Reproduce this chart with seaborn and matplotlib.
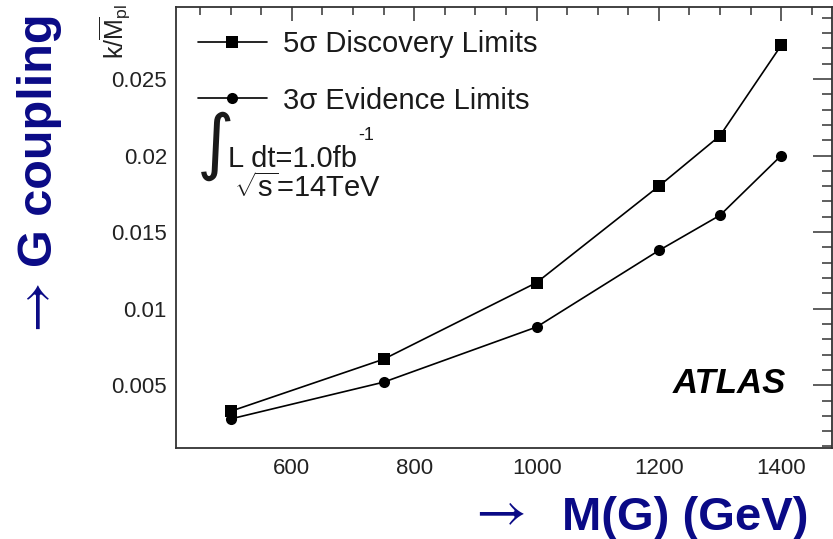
import matplotlib
matplotlib.use("Agg")
import matplotlib.pyplot as plt
from matplotlib.ticker import MultipleLocator, FuncFormatter
from matplotlib.lines import Line2D
import pandas as pd
import seaborn as sns

# Graviton mass points and coupling limits
mass_gev = [500, 750, 1000, 1200, 1300, 1400]
discovery_5sigma = [0.0033, 0.0067, 0.0117, 0.0180, 0.0213, 0.0272]
evidence_3sigma = [0.0028, 0.0052, 0.0088, 0.0138, 0.0161, 0.0200]
series_names = ["5σ Discovery Limits", "3σ Evidence Limits"]
series_markers = ["s", "o"]

x_limits = (410.5, 1483)
y_limits = (0.0009, 0.0297)

sns.set_style("white")
plt.rcParams["font.family"] = ["Liberation Sans", "DejaVu Sans"]
plt.rcParams["mathtext.fontset"] = "custom"
plt.rcParams["mathtext.rm"] = "Liberation Sans"
plt.rcParams["mathtext.it"] = "Liberation Sans:italic"
plt.rcParams["mathtext.bf"] = "Liberation Sans:bold"

W, H = 833, 539
fig = plt.figure(figsize=(W / 100, H / 100), dpi=100)
fig.patch.set_facecolor("white")


def px(x, y):
    return x / W, 1 - y / H


left, right, top, bottom = 176, 832, 7, 448
ax = fig.add_axes([left / W, 1 - bottom / H, (right - left) / W, (bottom - top) / H])
ax.set_facecolor("white")

df = pd.DataFrame({
    "mass": mass_gev * 2,
    "coupling": discovery_5sigma + evidence_3sigma,
    "series": [series_names[0]] * len(mass_gev) + [series_names[1]] * len(mass_gev),
})

sns.lineplot(
    data=df, x="mass", y="coupling", hue="series", style="series",
    markers=dict(zip(series_names, series_markers)), dashes=False,
    palette={name: "black" for name in series_names},
    linewidth=1.2, markersize=8, markeredgewidth=0, ax=ax, legend=False,
    sort=False,
)

ax.set_xlim(*x_limits)
ax.set_ylim(*y_limits)
ax.set_xlabel("")
ax.set_ylabel("")

frame_color = "#333333"
for s in ax.spines.values():
    s.set_visible(True)
    s.set_color(frame_color)
    s.set_linewidth(1.3)

ax.xaxis.set_major_locator(MultipleLocator(200))
ax.xaxis.set_minor_locator(MultipleLocator(50))
ax.yaxis.set_major_locator(MultipleLocator(0.005))
ax.yaxis.set_minor_locator(MultipleLocator(0.001))
ax.yaxis.set_major_formatter(FuncFormatter(lambda v, _: f"{v:g}"))
ax.xaxis.set_major_formatter(FuncFormatter(lambda v, _: f"{v:g}"))

ax.tick_params(axis="both", which="both", direction="in", top=True, right=True,
               color=frame_color, width=1.1, labelcolor="#222222", labelsize=16)
ax.tick_params(axis="y", which="major", length=13.5, pad=6.5)
ax.tick_params(axis="y", which="minor", length=7)
ax.tick_params(axis="x", which="major", length=10, pad=7)
ax.tick_params(axis="x", which="minor", length=5.8)

# Legend
legend_handles = [
    Line2D([], [], color="black", lw=1.2, marker=m, markersize=8, markeredgewidth=0)
    for m in series_markers
]
leg = ax.legend(legend_handles, series_names, loc="upper left",
                bbox_to_anchor=px(198, 30), bbox_transform=fig.transFigure,
                frameon=False, fontsize=21, handlelength=2.36, handletextpad=0.55,
                labelspacing=0.98, borderpad=0, borderaxespad=0)
for t in leg.get_texts():
    t.set_color("#1a1a1a")

# Luminosity and energy annotation
text_color = "#1a1a1a"
fig.text(*px(197, 166), "∫", fontsize=52, family="DejaVu Sans", color=text_color,
         ha="left", va="baseline")
fig.text(*px(228, 167), "L dt=1.0fb", fontsize=21, color=text_color,
         ha="left", va="baseline")
fig.text(*px(358, 140), "-1", fontsize=13, color=text_color,
         ha="left", va="baseline")
fig.text(*px(234, 197), r"$\sqrt{\mathrm{s}}$=14TeV", fontsize=21, color=text_color,
         ha="left", va="baseline")

# Experiment tag
fig.text(*px(673, 393), "ATLAS", fontsize=25, fontweight="bold", fontstyle="italic",
         color="black", ha="left", va="baseline")

# Axis unit label on the frame
fig.text(*px(115, 4), r"k/$\overline{\mathrm{M}}_{\mathrm{pl}}$", fontsize=18,
         rotation=90, color="#222222", ha="center", va="top")

# Outer axis titles
navy = "#0a0a86"
fig.text(*px(562, 530), "M(G) (GeV)", fontsize=34, fontweight="bold", color=navy,
         ha="left", va="baseline")
fig.text(*px(496, 538), r"$\rightarrow$", fontsize=40, math_fontfamily="stix",
         color=navy, ha="center", va="bottom")
fig.text(*px(52, 13), "G coupling", fontsize=35, fontweight="bold", color=navy,
         rotation=90, ha="right", va="baseline", rotation_mode="anchor")
fig.text(*px(37, 312), r"$\rightarrow$", fontsize=40, math_fontfamily="stix",
         color=navy, rotation=90, ha="center", va="center")

fig.savefig("out.png", dpi=100, facecolor="white")
